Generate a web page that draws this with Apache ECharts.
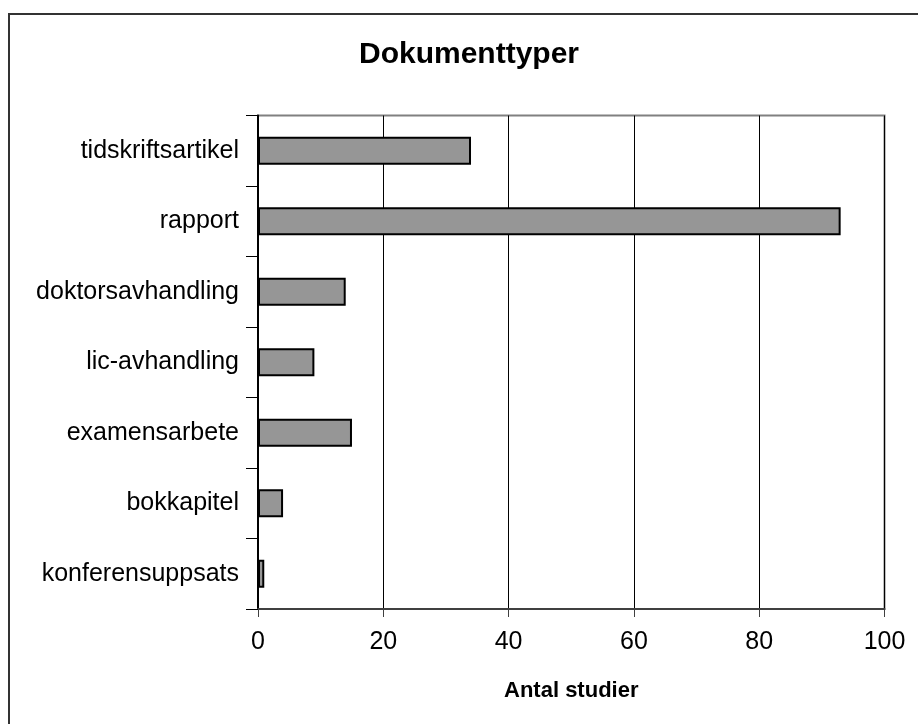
<!DOCTYPE html>
<html>
<head>
<meta charset="utf-8">
<script src="https://cdn.jsdelivr.net/npm/echarts@6/dist/echarts.min.js"></script>
<style>html,body{margin:0;padding:0;background:#fff}#c{width:918px;height:724px}</style>
</head>
<body>
<div id="c"></div>
<script>
const categories = ['tidskriftsartikel','rapport','doktorsavhandling','lic-avhandling','examensarbete','bokkapitel','konferensuppsats'];
const values = [34, 93, 14, 9, 15, 4, 1];
const xTicks = [0, 20, 40, 60, 80, 100];
const titleText = 'Dokumenttyper';
const xName = 'Antal studier';

const chart = echarts.init(document.getElementById('c'), null, {renderer: 'canvas'});
const FONT = 'Liberation Sans, Arial, sans-serif';
chart.setOption({
  animation: false,
  backgroundColor: '#fff',
  title: {
    text: titleText, left: 464, top: 35, textAlign: 'center',
    textStyle: {fontFamily: FONT, fontWeight: 'bold', fontSize: 30, color: '#000'}
  },
  graphic: [{
    type: 'rect', shape: {x: 9, y: 14, width: 940, height: 740},
    style: {fill: 'none', stroke: '#333', lineWidth: 2}, silent: true, z: 100
  }],
  grid: {left: 258, right: 33.5, top: 115.5, bottom: 115, show: true, borderColor: '#808080', borderWidth: 2, containLabel: false},
  xAxis: {
    type: 'value', min: xTicks[0], max: xTicks[xTicks.length - 1], interval: 20,
    name: xName, nameLocation: 'middle', nameGap: 71,
    nameTextStyle: {fontFamily: FONT, fontWeight: 'bold', fontSize: 22, color: '#000'},
    axisLine: {show: true, lineStyle: {color: '#404040', width: 2}},
    axisTick: {show: true, length: 8, lineStyle: {color: '#404040', width: 1}},
    axisLabel: {fontFamily: FONT, fontSize: 25, color: '#000', margin: 21},
    splitLine: {show: true, lineStyle: {color: '#000', width: 1}}
  },
  yAxis: {
    type: 'category', data: categories, inverse: true,
    axisLine: {show: true, lineStyle: {color: '#000', width: 2}},
    axisTick: {show: true, length: 12, lineStyle: {color: '#000', width: 1}},
    axisLabel: {fontFamily: FONT, fontSize: 25, color: '#000', margin: 19},
    splitLine: {show: false}
  },
  series: [{
    type: 'bar', data: values, barWidth: 28,
    itemStyle: {color: '#969696', borderColor: '#000', borderWidth: 2}
  }]
});
</script>
</body>
</html>
